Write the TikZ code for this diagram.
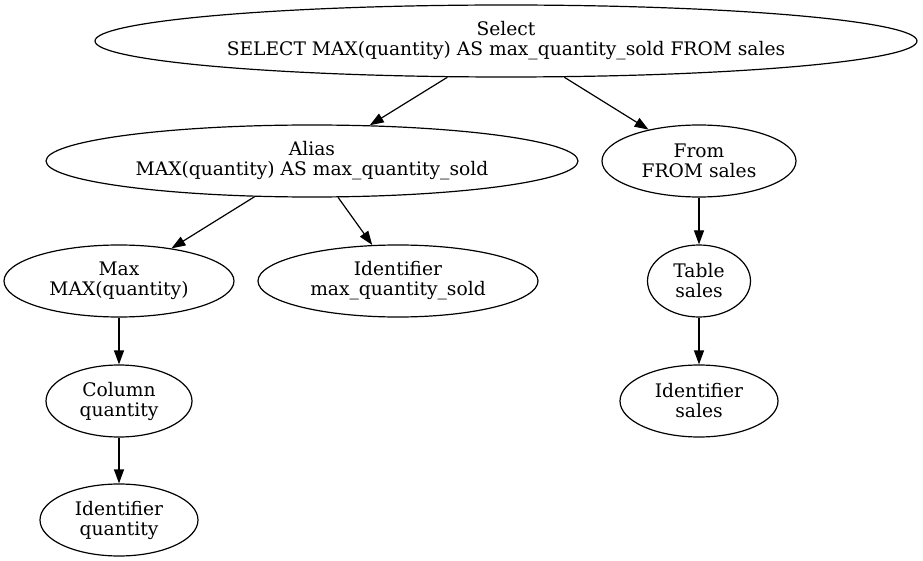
\documentclass[tikz,border=0pt]{standalone}
\usepackage{fontspec}
\setmainfont{DejaVu Serif}
\usetikzlibrary{shapes.geometric,arrows.meta}
\begin{document}
\begin{tikzpicture}[x=1pt,y=-1pt,
  nd/.style={draw, ellipse, inner sep=0pt, align=center, line width=1.2pt,
    font=\fontsize{18.67pt}{20pt}\selectfont},
  edge/.style={line width=1.2pt, -{Triangle[length=14pt,width=10pt]}}]
\useasboundingbox (0,0) rectangle (923,561);
\node[nd, minimum width=822pt, minimum height=72pt] (sel) at (506,41) {Select\\SELECT MAX(quantity) AS max\_quantity\_sold FROM sales};
\node[nd, minimum width=532pt, minimum height=72pt] (alias) at (312,161) {Alias\\MAX(quantity) AS max\_quantity\_sold};
\node[nd, minimum width=194pt, minimum height=72pt] (from) at (699,161) {From\\FROM sales};
\node[nd, minimum width=230pt, minimum height=72pt] (max) at (119,281) {Max\\MAX(quantity)};
\node[nd, minimum width=280pt, minimum height=72pt] (idmqs) at (398,281) {Identifier\\max\_quantity\_sold};
\node[nd, minimum width=103pt, minimum height=72pt] (table) at (699,281) {Table\\sales};
\node[nd, minimum width=146pt, minimum height=72pt] (col) at (119,401) {Column\\quantity};
\node[nd, minimum width=158pt, minimum height=72pt] (idsales) at (699,401) {Identifier\\sales};
\node[nd, minimum width=158pt, minimum height=72pt] (idq) at (119,520) {Identifier\\quantity};
\draw[edge] (sel) -- (alias);
\draw[edge] (sel) -- (from);
\draw[edge] (alias) -- (max);
\draw[edge] (alias) -- (idmqs);
\draw[edge] (from) -- (table);
\draw[edge] (table) -- (idsales);
\draw[edge] (max) -- (col);
\draw[edge] (col) -- (idq);
\end{tikzpicture}
\end{document}
